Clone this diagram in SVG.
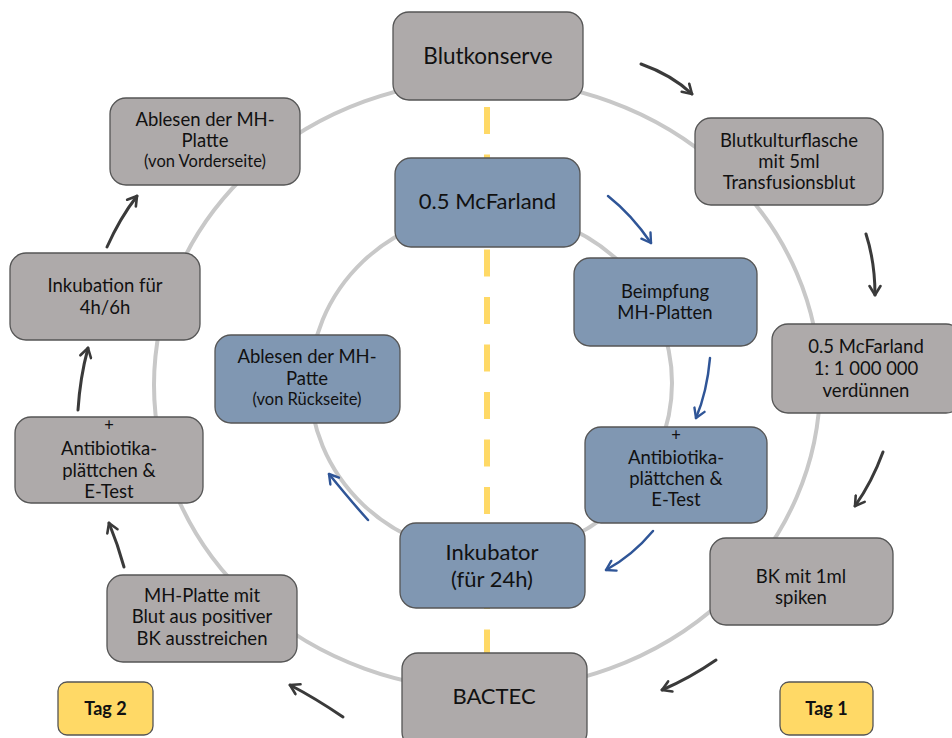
<svg xmlns="http://www.w3.org/2000/svg" width="952" height="738" viewBox="0 0 952 738">
<defs>
<style>
.ring{fill:none;stroke:#c8c8c8;stroke-width:4}
.yl{fill:none;stroke:#ffd966;stroke-width:6;stroke-dasharray:27 20.5}
.g{fill:#aeaaaa;stroke:#555;stroke-width:1.3}
.b{fill:#8097b2;stroke:#555;stroke-width:1.3}
.y{fill:#ffd966;stroke:#555;stroke-width:1.3}
text{font-family:Lato,"Liberation Sans",sans-serif;fill:#111;text-anchor:middle}
.t{font-size:18.5px}
.s{font-size:16.5px}
.L{font-size:22px}
.tag{font-size:18px;font-weight:bold}
.da{fill:none;stroke:#3a3a3a;stroke-width:3;stroke-linecap:round;marker-end:url(#ahd)}
.ba{fill:none;stroke:#2f5597;stroke-width:2.5;stroke-linecap:round;marker-end:url(#ahb)}
</style>
<marker id="ahd" viewBox="0 0 14 14" refX="12" refY="7" markerWidth="14" markerHeight="14" markerUnits="userSpaceOnUse" orient="auto"><path d="M3,1.5 L12,7 L3,12.5" fill="none" stroke="#3a3a3a" stroke-width="2.6" stroke-linecap="round" stroke-linejoin="round"/></marker>
<marker id="ahb" viewBox="0 0 14 14" refX="12" refY="7" markerWidth="14" markerHeight="14" markerUnits="userSpaceOnUse" orient="auto"><path d="M3,1.5 L12,7 L3,12.5" fill="none" stroke="#2f5597" stroke-width="2.4" stroke-linecap="round" stroke-linejoin="round"/></marker>
</defs>
<rect width="952" height="738" fill="#fff"/>
<g id="connectors">
<ellipse class="ring" cx="487" cy="385" rx="333" ry="305"/>
<ellipse class="ring" cx="491" cy="383" rx="181" ry="172"/>
<line class="yl" x1="487" y1="107" x2="487" y2="653"/>
<path class="da" d="M641,64 Q672,75 692,94"/>
<path class="da" d="M866,234 Q875,262 875,295"/>
<path class="da" d="M883,452 Q872,482 855,506"/>
<path class="da" d="M716,660 Q690,678 662,690"/>
<path class="da" d="M343,717 Q315,698 290,685"/>
<path class="da" d="M124,567 Q118,545 109,523"/>
<path class="da" d="M78,410 Q80,378 88,348"/>
<path class="da" d="M107,247 Q120,218 137,196"/>
<path class="ba" d="M608,196 Q632,215 651,243"/>
<path class="ba" d="M710,358 Q707,392 696,418"/>
<path class="ba" d="M653,531 Q632,556 606,570"/>
<path class="ba" d="M368,520 Q350,500 329,474"/>
</g>
<g id="n-blutkonserve"><rect class="g" x="393" y="12" width="190" height="88" rx="16"/><text class="L" x="488" y="64" style="font-size:22.5px">Blutkonserve</text></g>
<g id="n-ablesen-vorder"><rect class="g" x="110" y="98" width="190" height="87" rx="16"/><text class="t" x="205" y="126">Ablesen der MH-</text><text class="t" x="205" y="147">Platte</text><text class="s" x="205" y="167">(von Vorderseite)</text></g>
<g id="n-blutkultur"><rect class="g" x="695" y="118" width="188" height="87" rx="16"/><text class="t" x="789" y="147">Blutkulturflasche</text><text class="t" x="789" y="168">mit 5ml</text><text class="t" x="789" y="189">Transfusionsblut</text></g>
<g id="n-mcfarland-blue"><rect class="b" x="395" y="158" width="185" height="89" rx="16"/><text class="L" x="487.5" y="209">0.5 McFarland</text></g>
<g id="n-beimpfung"><rect class="b" x="574" y="258" width="183" height="88" rx="16"/><text class="t" x="665" y="298">Beimpfung</text><text class="t" x="665" y="319">MH-Platten</text></g>
<g id="n-mcfarland-gray"><rect class="g" x="772" y="324" width="190" height="89" rx="16"/><text class="t" x="866" y="353">0.5 McFarland</text><text class="t" x="866" y="375">1: 1 000 000</text><text class="t" x="866" y="397">verdünnen</text></g>
<g id="n-ablesen-rueck"><rect class="b" x="215" y="335" width="185" height="88" rx="16"/><text class="t" x="307" y="363">Ablesen der MH-</text><text class="t" x="307" y="385">Patte</text><text class="s" x="307" y="405">(von Rückseite)</text></g>
<g id="n-antibiotika-blue"><rect class="b" x="585" y="427" width="182" height="96" rx="16"/><text class="s" x="676" y="441">+</text><text class="t" x="676" y="464">Antibiotika-</text><text class="t" x="676" y="485">plättchen &amp;</text><text class="t" x="676" y="506">E-Test</text></g>
<g id="n-inkubation"><rect class="g" x="10" y="253" width="190" height="87" rx="16"/><text class="t" x="105" y="292">Inkubation für</text><text class="t" x="105" y="314">4h/6h</text></g>
<g id="n-antibiotika-gray"><rect class="g" x="15" y="417" width="188" height="86" rx="16"/><text class="s" x="109" y="431">+</text><text class="t" x="109" y="455">Antibiotika-</text><text class="t" x="109" y="477">plättchen &amp;</text><text class="t" x="109" y="498">E-Test</text></g>
<g id="n-bk-spiken"><rect class="g" x="710" y="538" width="183" height="87" rx="16"/><text class="t" x="801" y="583">BK mit 1ml</text><text class="t" x="801" y="604">spiken</text></g>
<g id="n-inkubator"><rect class="b" x="400" y="523" width="185" height="85" rx="16"/><text class="L" x="492" y="560">Inkubator</text><text class="L" x="492" y="587">(für 24h)</text></g>
<g id="n-mh-platte"><rect class="g" x="107" y="575" width="190" height="87" rx="16"/><text class="t" x="202" y="602">MH-Platte mit</text><text class="t" x="202" y="623">Blut aus positiver</text><text class="t" x="202" y="645">BK ausstreichen</text></g>
<g id="n-bactec"><rect class="g" x="402" y="653" width="185" height="95" rx="16"/><text class="L" x="494" y="704">BACTEC</text></g>
<g id="n-tag2"><rect class="y" x="58" y="682" width="95" height="53" rx="9"/><text class="tag" x="105.5" y="715">Tag 2</text></g>
<g id="n-tag1"><rect class="y" x="780" y="682" width="93" height="53" rx="9"/><text class="tag" x="826.5" y="715">Tag 1</text></g>
</svg>
